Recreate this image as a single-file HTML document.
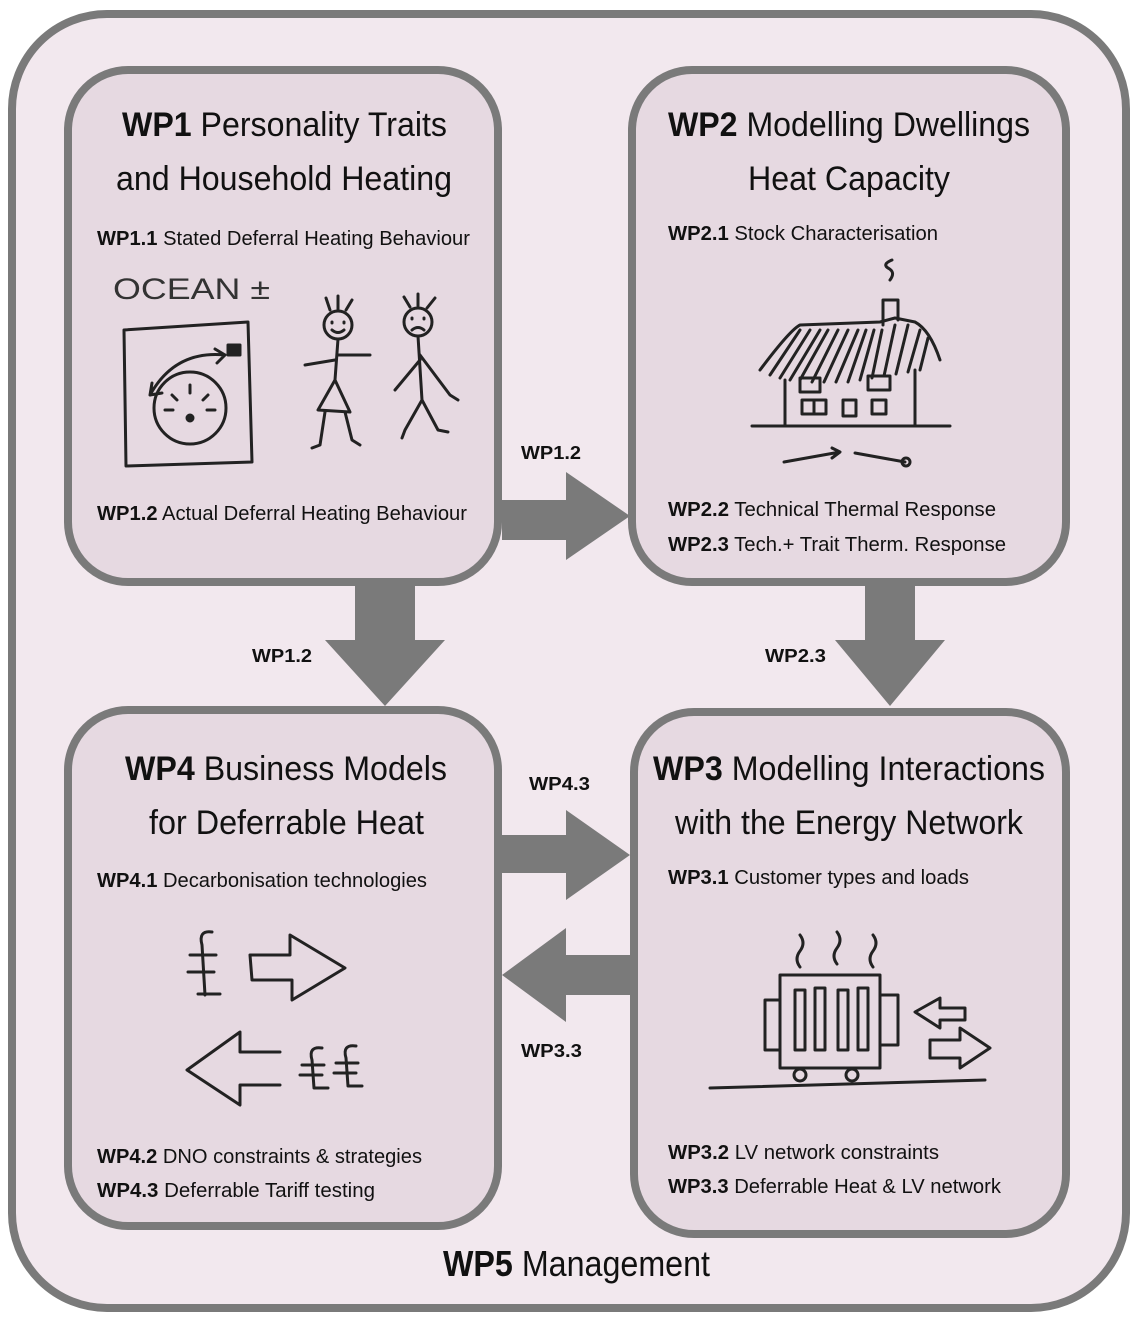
<!DOCTYPE html>
<html><head><meta charset="utf-8"><style>
html,body{margin:0;padding:0;background:#fff;}
svg{display:block;}
text{font-family:"Liberation Sans",sans-serif;fill:#111;}
.t{font-size:34px;}
.s{font-size:20px;}
.a{font-size:18px;font-weight:bold;}
.b{font-weight:bold;}
.sk{fill:none;stroke:#222;stroke-width:3;stroke-linecap:round;stroke-linejoin:round;}
</style></head><body>
<svg width="1140" height="1324" viewBox="0 0 1140 1324" xmlns="http://www.w3.org/2000/svg">
<rect x="0" y="0" width="1140" height="1324" fill="#fff"/>
<rect x="12" y="14" width="1114" height="1294" rx="95" fill="#f2e8ee" stroke="#7a7a7a" stroke-width="8"/>
<g fill="#e6d9e1" stroke="#7a7a7a" stroke-width="8">
<rect x="68" y="70" width="430" height="512" rx="60"/>
<rect x="632" y="70" width="434" height="512" rx="60"/>
<rect x="68" y="710" width="430" height="516" rx="60"/>
<rect x="634" y="712" width="432" height="522" rx="60"/>
</g>
<g fill="#7a7a7a">
<polygon points="502,500 566,500 566,472 630,516 566,560 566,540 502,540"/>
<polygon points="355,586 415,586 415,640 445,640 385,706 325,640 355,640"/>
<polygon points="865,586 915,586 915,640 945,640 890,706 835,640 865,640"/>
<polygon points="502,835 566,835 566,810 630,855 566,900 566,873 502,873"/>
<polygon points="632,955 566,955 566,928 502,975 566,1022 566,995 632,995"/>
</g>
<text class="t" x="122" y="136" textLength="325" lengthAdjust="spacingAndGlyphs"><tspan class="b">WP1</tspan> Personality Traits</text>
<text class="t" x="116" y="190" textLength="336" lengthAdjust="spacingAndGlyphs">and Household Heating</text>
<text class="s" x="97" y="245" textLength="373" lengthAdjust="spacingAndGlyphs"><tspan class="b">WP1.1</tspan> Stated Deferral Heating Behaviour</text>
<text class="s" x="97" y="520" textLength="370" lengthAdjust="spacingAndGlyphs"><tspan class="b">WP1.2</tspan> Actual Deferral Heating Behaviour</text>

<text class="t" x="668" y="136" textLength="362" lengthAdjust="spacingAndGlyphs"><tspan class="b">WP2</tspan> Modelling Dwellings</text>
<text class="t" x="748" y="190" textLength="202" lengthAdjust="spacingAndGlyphs">Heat Capacity</text>
<text class="s" x="668" y="240" textLength="270" lengthAdjust="spacingAndGlyphs"><tspan class="b">WP2.1</tspan> Stock Characterisation</text>
<text class="s" x="668" y="516" textLength="328" lengthAdjust="spacingAndGlyphs"><tspan class="b">WP2.2</tspan> Technical Thermal Response</text>
<text class="s" x="668" y="551" textLength="338" lengthAdjust="spacingAndGlyphs"><tspan class="b">WP2.3</tspan> Tech.+ Trait Therm. Response</text>

<text class="t" x="125" y="780" textLength="322" lengthAdjust="spacingAndGlyphs"><tspan class="b">WP4</tspan> Business Models</text>
<text class="t" x="149" y="834" textLength="275" lengthAdjust="spacingAndGlyphs">for Deferrable Heat</text>
<text class="s" x="97" y="887" textLength="330" lengthAdjust="spacingAndGlyphs"><tspan class="b">WP4.1</tspan> Decarbonisation technologies</text>
<text class="s" x="97" y="1163" textLength="325" lengthAdjust="spacingAndGlyphs"><tspan class="b">WP4.2</tspan> DNO constraints &amp; strategies</text>
<text class="s" x="97" y="1197" textLength="278" lengthAdjust="spacingAndGlyphs"><tspan class="b">WP4.3</tspan> Deferrable Tariff testing</text>

<text class="t" x="653" y="780" textLength="392" lengthAdjust="spacingAndGlyphs"><tspan class="b">WP3</tspan> Modelling Interactions</text>
<text class="t" x="675" y="834" textLength="348" lengthAdjust="spacingAndGlyphs">with the Energy Network</text>
<text class="s" x="668" y="884" textLength="301" lengthAdjust="spacingAndGlyphs"><tspan class="b">WP3.1</tspan> Customer types and loads</text>
<text class="s" x="668" y="1159" textLength="271" lengthAdjust="spacingAndGlyphs"><tspan class="b">WP3.2</tspan> LV network constraints</text>
<text class="s" x="668" y="1193" textLength="333" lengthAdjust="spacingAndGlyphs"><tspan class="b">WP3.3</tspan> Deferrable Heat &amp; LV network</text>

<text x="443" y="1276" style="font-size:36px" textLength="267" lengthAdjust="spacingAndGlyphs"><tspan class="b">WP5</tspan> Management</text>

<text class="a" x="521" y="459" textLength="60" lengthAdjust="spacingAndGlyphs">WP1.2</text>
<text class="a" x="252" y="662" textLength="60" lengthAdjust="spacingAndGlyphs">WP1.2</text>
<text class="a" x="765" y="662" textLength="61" lengthAdjust="spacingAndGlyphs">WP2.3</text>
<text class="a" x="529" y="790" textLength="61" lengthAdjust="spacingAndGlyphs">WP4.3</text>
<text class="a" x="521" y="1057" textLength="61" lengthAdjust="spacingAndGlyphs">WP3.3</text>

<text x="113" y="299" style="font-size:30px;fill:#333" textLength="157" lengthAdjust="spacingAndGlyphs">OCEAN ±</text>
<g class="sk">
<path d="M124 330 L248 322 L252 462 L126 466 Z"/>
<rect x="228" y="345" width="12" height="10" fill="#222"/>
<circle cx="190" cy="408" r="36"/>
<path d="M150 395 Q175 350 225 355 M150 395 l2 -12 M150 395 l12 -2 M225 355 l-10 -6 M225 355 l-8 8"/>
<path d="M190 385v8 M172 395l5 5 M208 395l-5 5 M165 410h8 M207 410h8"/>
<circle cx="190" cy="418" r="3" fill="#222"/>
<circle cx="338" cy="325" r="14"/><path d="M332 322v1 M344 322v1 M332 330q6 5 12 0 M330 310l-4 -12 M338 310v-14 M346 310l6 -10"/>
<path d="M338 339 L335 380 M335 360 L305 365 M338 355 L370 355 M335 380 L318 410 L350 412 Z M325 412 L320 445 L312 448 M345 412 L352 440 L360 445"/>
<circle cx="418" cy="322" r="14"/><path d="M412 318v1 M424 318v1 M412 330q6 -5 12 0 M410 307l-6 -10 M418 306v-12 M427 308l8 -10"/>
<path d="M418 336 L422 400 M420 360 L395 390 M420 355 L450 395 L458 400 M422 400 L405 430 L402 438 M422 400 L438 430 L448 432"/>
</g>
<g class="sk">
<path d="M760 370 Q790 330 800 325 L880 322 L895 318 L915 322 Q930 330 940 360 M770 375 L800 330 M780 378 L810 330 M790 380 L820 330 M800 380 L828 330 M812 382 L838 330 M824 382 L848 330 M836 382 L858 330 M848 382 L866 330 M860 380 L874 330 M872 378 L882 330 M884 376 L895 325 M896 374 L908 325 M908 372 L920 330 M920 370 L928 338"/>
<path d="M883 325 V300 H898 V320 M890 280 q6 -8 -2 -12 q-6 -4 4 -8"/>
<path d="M785 380 V426 M915 370 V426 M752 426 H950"/>
<rect x="800" y="378" width="20" height="14"/><rect x="868" y="376" width="22" height="14"/>
<path d="M802 400 H826 V414 H802 Z M814 400 V414 M843 400 H856 V416 H843 Z M872 400 H886 V414 H872 Z"/>
<path d="M784 462 L840 452 M832 448 l8 4 -8 6 M855 453 L905 462"/>
<circle cx="906" cy="462" r="4"/>
</g>
<g class="sk">
<path d="M212 932 Q198 930 202 945 L205 995 M190 955 h26 M188 972 h26 M198 994 h22"/>
<path d="M250 955 H290 V935 L345 968 L292 1000 V980 H252 Z"/>
<path d="M280 1052 H240 V1032 L187 1070 L240 1105 V1085 H280"/>
<path d="M322 1048 Q308 1046 312 1060 L314 1088 h14 M302 1065 h22 M300 1075 h22 M356 1046 Q342 1044 346 1058 L348 1086 h14 M336 1063 h22 M334 1073 h22"/>
</g>
<g class="sk">
<path d="M800 935 q6 8 0 16 q-6 8 0 16 M837 932 q6 8 0 16 q-6 8 0 16 M873 935 q6 8 0 16 q-6 8 0 16"/>
<path d="M780 975 H880 V1068 H780 Z M765 1000 h15 v50 h-15 z M880 995 h18 v50 h-18 z"/>
<path d="M795 990 v60 h10 v-60 z M815 988 v62 h10 v-62 z M838 990 v60 h10 v-60 z M858 988 v62 h10 v-62 z"/>
<circle cx="800" cy="1075" r="6"/><circle cx="852" cy="1075" r="6"/>
<path d="M710 1088 L985 1080"/>
<path d="M965 1008 H940 V998 L915 1012 L940 1028 V1020 H965 Z"/>
<path d="M930 1040 H960 V1028 L990 1048 L960 1068 V1058 H930 Z"/>
</g>
</svg>
</body></html>
